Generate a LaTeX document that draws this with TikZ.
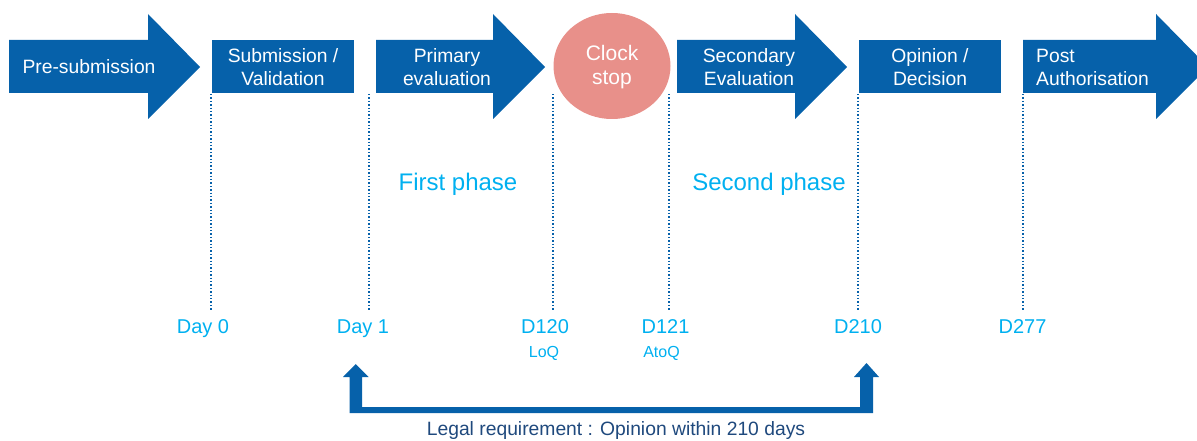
\documentclass[tikz,border=0pt]{standalone}
\usepackage{fontspec}
\setmainfont{Liberation Sans}
\usetikzlibrary{shapes.geometric}
\definecolor{emablue}{RGB}{6,97,170}
\definecolor{lightblue}{RGB}{0,176,240}
\definecolor{pinkstop}{RGB}{232,144,138}
\definecolor{navy}{RGB}{31,73,125}
\begin{document}
\begin{tikzpicture}[x=1pt,y=-1pt,
  stagefill/.style={fill=emablue},
  stagetext/.style={text=white,font=\fontsize{19.3}{23}\selectfont,align=center,inner sep=0pt},
  phase/.style={text=lightblue,font=\fontsize{24}{26}\selectfont,inner sep=0pt,anchor=base},
  daylbl/.style={text=lightblue,font=\fontsize{20}{22}\selectfont,inner sep=0pt,anchor=base},
  sublbl/.style={text=lightblue,font=\fontsize{16}{18}\selectfont,inner sep=0pt,anchor=base},
  tick/.style={draw=emablue,dotted,line width=1.4pt}]
\useasboundingbox (0,0) rectangle (1197,441);
% stage shapes
\fill[stagefill] (9,40) -- (148,40) -- (148,14) -- (200,67) -- (148,119) -- (148,93) -- (9,93) -- cycle;
\fill[stagefill] (212,40) rectangle (354,93);
\fill[stagefill] (376,40) -- (493,40) -- (493,14) -- (545,67) -- (493,119) -- (493,93) -- (376,93) -- cycle;
\node[ellipse,fill=pinkstop,minimum width=117pt,minimum height=106pt,inner sep=0pt] (clock) at (612,66) {};
\fill[stagefill] (677,40) -- (795,40) -- (795,14) -- (847,67) -- (795,119) -- (795,93) -- (677,93) -- cycle;
\fill[stagefill] (859,40) rectangle (1001,93);
\fill[stagefill] (1023,40) -- (1156,40) -- (1156,14) -- (1208,67) -- (1156,119) -- (1156,93) -- (1023,93) -- cycle;
% stage texts
\node[stagetext] (pre) at (89,67) {Pre-submission};
\node[stagetext] (sub) at (283,67) {Submission /\\Validation};
\node[stagetext] (prim) at (447,67) {Primary\\evaluation};
\node[stagetext,font=\fontsize{21}{24}\selectfont] (clk) at (612,67) {Clock\\stop};
\node[stagetext] (sec) at (749,67) {Secondary\\Evaluation};
\node[stagetext] (opi) at (930,67) {Opinion /\\Decision};
\node[stagetext,align=left,anchor=west] (post) at (1036,67) {Post\\Authorisation};
% phases
\node[phase] (ph1) at (458,190) {First phase};
\node[phase] (ph2) at (769,190) {Second phase};
% tick coordinates
\coordinate (t0) at (211,94); \coordinate (b0) at (211,310);
\coordinate (t1) at (369,94); \coordinate (b1) at (369,310);
\coordinate (t2) at (553,94); \coordinate (b2) at (553,310);
\coordinate (t3) at (669,94); \coordinate (b3) at (669,310);
\coordinate (t4) at (858,94); \coordinate (b4) at (858,310);
\coordinate (t5) at (1023,94); \coordinate (b5) at (1023,310);
\foreach \i in {0,...,5} {\draw[tick] (t\i) -- (b\i);}
% day labels
\node[daylbl] (d0) at (203,333.5) {Day 0};
\node[daylbl] (d1) at (363,333.5) {Day 1};
\node[daylbl] (d120) at (545,333.5) {D120};
\node[sublbl] (loq) at (544,357.5) {LoQ};
\node[daylbl] (d121) at (665.5,333.5) {D121};
\node[sublbl] (atoq) at (661.5,357.5) {AtoQ};
\node[daylbl] (d210) at (858,333.5) {D210};
\node[daylbl] (d277) at (1022.5,333.5) {D277};
% legal requirement bracket arrow
\fill[emablue] (343,377) -- (355.75,364) -- (368.5,377) -- (362,377) -- (362,407) -- (860,407) -- (860,377) -- (854,377) -- (866.5,363) -- (879,377) -- (873,377) -- (873,413) -- (349.5,413) -- (349.5,377) -- cycle;
\node[text=navy,font=\fontsize{19.3}{22}\selectfont,inner sep=0pt] (legal) at (616,431) {Legal requirement : Opinion within 210 days};
\end{tikzpicture}
\end{document}
